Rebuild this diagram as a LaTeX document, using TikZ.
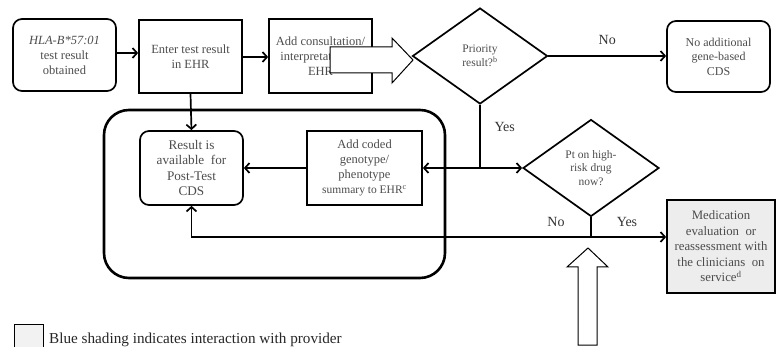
\documentclass[tikz,border=0pt]{standalone}
\usepackage{fontspec}
\setmainfont{Liberation Serif}
\usetikzlibrary{arrows.meta,shapes.geometric}
\tikzset{
  box/.style={draw, line width=1.7pt, align=center, inner sep=1pt, text=black!70,
    font=\fontsize{12.5}{15}\selectfont},
  rbox/.style={box, rounded corners=9pt},
  dia/.style={draw, diamond, line width=1.7pt, align=center, inner sep=0pt, text=black!70,
    font=\fontsize{11.5}{13.5}\selectfont},
  arr/.style={line width=1.7pt, -{Straight Barb[length=4.5pt,width=10pt,line width=1.7pt]}},
  ln/.style={line width=1.7pt},
  lbl/.style={font=\fontsize{14}{16}\selectfont, text=black!80},
  blockarrow/.style={draw, line width=1pt, fill=white},
}
\begin{document}
\begin{tikzpicture}[x=1pt,y=-1pt]
\useasboundingbox (0,0) rectangle (776,347);
% big rounded frame
\draw[line width=2.6pt, rounded corners=25pt] (104,110) rectangle (445,278);
% nodes
\node[rbox, minimum width=103pt, minimum height=72pt] (n1) at (64.5,55)
  {\textit{HLA-B*57:01}\\test result\\obtained};
\node[box, minimum width=103pt, minimum height=73pt] (n2) at (190.5,56.5)
  {Enter test result\\in EHR};
\node[box, minimum width=103pt, minimum height=74pt] (n3) at (320.5,56)
  {Add consultation/\\interpretation in\\EHR};
\node[dia, minimum width=135pt, minimum height=96pt] (d1) at (480,56)
  {Priority\\result?$^{\mathrm{b}}$};
\node[rbox, minimum width=103pt, minimum height=71pt, font=\fontsize{12}{14.5}\selectfont] (n4) at (718.5,56.5)
  {No additional\\gene-based\\CDS};
\node[rbox, minimum width=103pt, minimum height=74pt, font=\fontsize{13.2}{15.5}\selectfont] (res) at (191.5,168)
  {Result is\\available~~for\\Post-Test\\CDS};
\node[box, minimum width=115pt, minimum height=74pt] (cod) at (364.5,168)
  {Add coded\\genotype/\\phenotype\\{\fontsize{11.5}{14}\selectfont summary to EHR$^{\mathrm{c}}$}};
\node[dia, minimum width=136pt, minimum height=97pt] (d2) at (591,168)
  {Pt on high-\\risk drug\\now?};
\node[box, fill=black!7, minimum width=108pt, minimum height=93pt, font=\fontsize{12.8}{15.5}\selectfont] (med) at (721,246.5)
  {Medication\\evaluation~~or\\reassessment with\\the clinicians~~on\\service$^{\mathrm{d}}$};
% block arrow over consultation box
\draw[blockarrow] (330,47) -- (392,47) -- (392,38) -- (413,60) -- (392,83) -- (392,73) -- (330,73) -- cycle;
% connectors
\draw[arr] (n1.east |- 0,53) -- (n2.west |- 0,53);
\draw[arr] (n2.east |- 0,57) -- (n3.west |- 0,57);
\draw[arr] (n2.south) -- (res.north);
\draw[arr] (d1.east) -- (n4.west |- d1.east) node[lbl, midway, above=7pt] {No};
\coordinate (j1) at (480,168);
\draw[ln] (d1.south) -- (j1);
\node[lbl, anchor=west] (yes1) at (491,127) {Yes};
\draw[arr] (j1) -- (cod.east |- j1);
\draw[arr] (j1) -- (d2.west);
\draw[arr] (cod.west) -- (res.east);
\coordinate (j2) at (591,237);
\draw[ln] (d2.south) -- (j2);
\draw[arr] (j2) -- (med.west |- j2);
\draw[arr] (j2) -- (res.south |- j2) -- (res.south);
\node[lbl] (no2) at (556,222) {No};
\node[lbl] (yes2) at (627,222) {Yes};
% big up arrow
\draw[blockarrow] (578,345) -- (578,267) -- (567,267) -- (588,248) -- (608,267) -- (597,267) -- (597,345) -- cycle;
% legend
\draw[line width=1pt, fill=black!5] (14,324) rectangle (43,350);
\node[anchor=base west, font=\fontsize{15.2}{17}\selectfont, text=black!85, inner sep=0pt] (leg) at (49,343)
  {Blue shading indicates interaction with provider};
\end{tikzpicture}
\end{document}
